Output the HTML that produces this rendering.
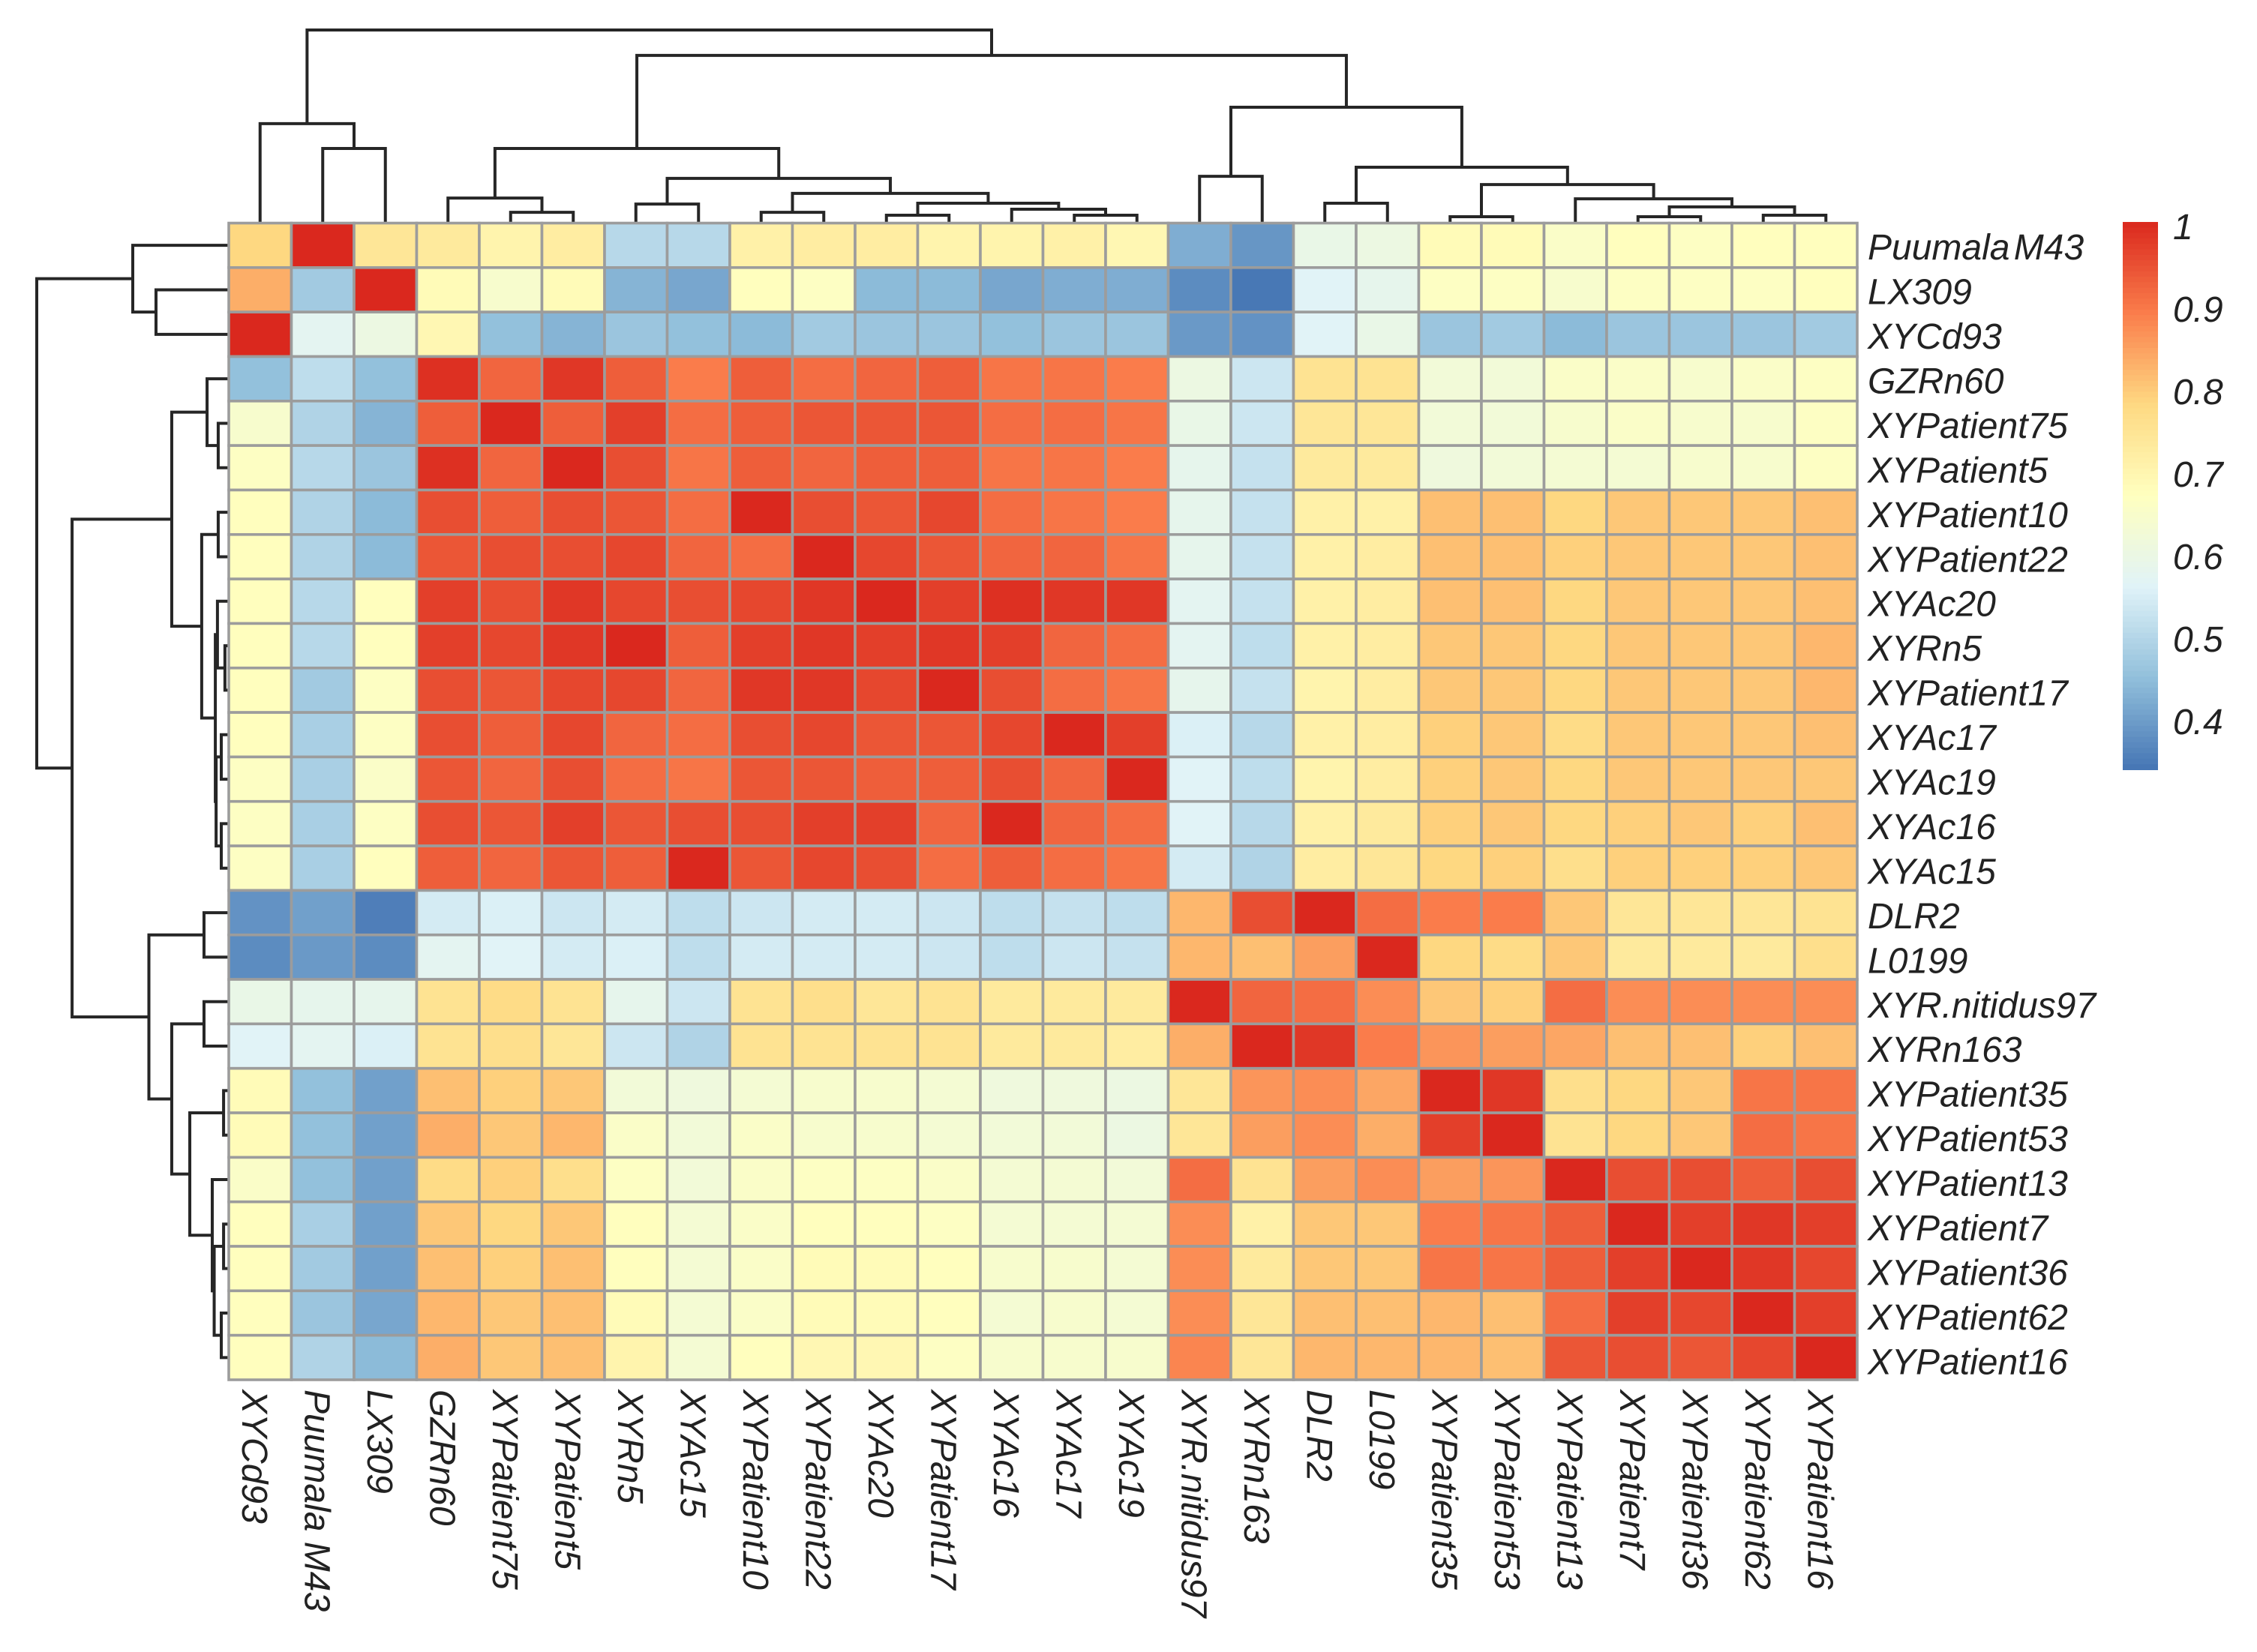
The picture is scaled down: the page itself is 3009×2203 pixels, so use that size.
<!DOCTYPE html>
<html lang="en">
<head>
<meta charset="utf-8">
<title>Clustered correlation heatmap</title>
<style>
html,body{margin:0;padding:0;background:#fff;width:3009px;height:2203px;overflow:hidden}
svg{display:block}
text{font-family:"Liberation Sans",sans-serif;font-style:italic;font-size:48px;fill:#222222}
</style>
</head>
<body>
<svg id="chart" xmlns="http://www.w3.org/2000/svg" width="3009" height="2203" viewBox="0 0 3009 2203">
  <rect x="0" y="0" width="3009" height="2203" fill="#ffffff"/>
  <g id="col-dendrogram" fill="none" stroke="#262626" stroke-width="4"></g>
  <g id="row-dendrogram" fill="none" stroke="#262626" stroke-width="4"></g>
  <g id="cells"></g>
  <g id="row-labels" style="word-spacing:-8px"></g>
  <g id="col-labels"></g>
  <g id="legend-bar"></g>
  <g id="legend-labels"></g>
</svg>
<script>
const rowLabels = ["Puumala M43","LX309","XYCd93","GZRn60","XYPatient75","XYPatient5","XYPatient10","XYPatient22","XYAc20","XYRn5","XYPatient17","XYAc17","XYAc19","XYAc16","XYAc15","DLR2","L0199","XYR.nitidus97","XYRn163","XYPatient35","XYPatient53","XYPatient13","XYPatient7","XYPatient36","XYPatient62","XYPatient16"];
const colLabels = ["XYCd93","Puumala M43","LX309","GZRn60","XYPatient75","XYPatient5","XYRn5","XYAc15","XYPatient10","XYPatient22","XYAc20","XYPatient17","XYAc16","XYAc17","XYAc19","XYR.nitidus97","XYRn163","DLR2","L0199","XYPatient35","XYPatient53","XYPatient13","XYPatient7","XYPatient36","XYPatient62","XYPatient16"];
const legendTicks = [1,0.9,0.8,0.7,0.6,0.5,0.4];
const legendTickText = ["1","0.9","0.8","0.7","0.6","0.5","0.4"];
const values = [
[.78,1,.74,.73,.70,.72,.50,.50,.71,.72,.72,.70,.70,.71,.69,.42,.385,.59,.60,.68,.68,.65,.67,.66,.67,.67],
[.83,.47,1,.68,.64,.68,.43,.41,.67,.66,.44,.44,.41,.42,.42,.37,.34,.56,.58,.66,.66,.64,.66,.66,.66,.67],
[1,.57,.60,.69,.45,.43,.46,.45,.44,.47,.46,.46,.45,.46,.46,.39,.38,.56,.59,.46,.47,.44,.46,.46,.46,.47],
[.45,.51,.45,.99,.92,.98,.93,.89,.93,.91,.92,.93,.90,.90,.89,.60,.53,.75,.75,.62,.62,.65,.65,.64,.65,.66],
[.64,.49,.43,.93,1,.93,.97,.91,.93,.94,.94,.94,.91,.91,.90,.59,.53,.74,.74,.62,.62,.64,.65,.64,.64,.66],
[.66,.50,.46,.99,.92,1,.95,.90,.93,.92,.93,.93,.90,.90,.89,.58,.52,.73,.73,.61,.62,.63,.63,.64,.64,.66],
[.67,.49,.44,.95,.93,.95,.94,.91,1,.95,.94,.96,.91,.90,.89,.58,.52,.71,.71,.81,.81,.78,.80,.80,.80,.81],
[.67,.49,.44,.94,.95,.95,.96,.92,.91,1,.96,.94,.92,.92,.90,.58,.52,.71,.72,.81,.81,.79,.80,.80,.80,.81],
[.67,.50,.67,.97,.95,.98,.96,.95,.96,.98,1,.97,.99,.98,.98,.57,.52,.71,.72,.81,.81,.78,.80,.80,.80,.81],
[.67,.50,.67,.97,.96,.98,1,.93,.97,.98,.97,.98,.97,.92,.91,.57,.51,.71,.72,.80,.80,.78,.80,.80,.80,.82],
[.67,.47,.66,.95,.94,.96,.96,.92,.98,.98,.96,1,.95,.91,.90,.58,.52,.70,.72,.80,.80,.78,.80,.80,.80,.82],
[.67,.48,.66,.95,.93,.96,.92,.91,.95,.96,.94,.94,.96,1,.97,.55,.50,.71,.72,.79,.80,.77,.80,.80,.80,.81],
[.66,.48,.65,.94,.92,.95,.91,.90,.94,.94,.93,.93,.95,.92,1,.56,.51,.70,.72,.79,.80,.78,.80,.80,.80,.80],
[.66,.48,.66,.95,.94,.97,.94,.95,.95,.97,.97,.92,1,.92,.91,.56,.50,.71,.73,.79,.80,.78,.79,.80,.79,.81],
[.66,.48,.67,.93,.92,.94,.93,1,.94,.96,.95,.91,.93,.91,.90,.54,.49,.72,.74,.78,.79,.76,.79,.79,.79,.80],
[.38,.40,.35,.54,.55,.53,.54,.51,.53,.54,.54,.53,.51,.52,.51,.82,.95,1,.91,.89,.89,.80,.74,.74,.74,.75],
[.37,.39,.37,.57,.56,.54,.55,.51,.54,.54,.54,.53,.51,.53,.52,.82,.81,.85,1,.78,.77,.80,.73,.73,.73,.76],
[.59,.58,.58,.75,.77,.75,.58,.53,.75,.76,.74,.75,.73,.73,.73,1,.92,.91,.87,.80,.79,.91,.87,.87,.87,.87],
[.56,.57,.55,.75,.76,.74,.53,.49,.75,.75,.75,.75,.73,.73,.72,.83,1,.98,.89,.86,.85,.84,.81,.81,.79,.81],
[.68,.45,.40,.81,.79,.80,.62,.61,.63,.64,.64,.63,.61,.61,.60,.74,.86,.87,.84,1,.98,.76,.78,.80,.90,.90],
[.68,.45,.40,.83,.80,.82,.65,.62,.65,.64,.64,.63,.62,.62,.60,.74,.85,.87,.83,.97,1,.75,.78,.80,.91,.90],
[.65,.45,.40,.77,.79,.76,.66,.62,.65,.66,.66,.65,.63,.63,.62,.91,.75,.85,.87,.85,.86,1,.95,.95,.93,.95],
[.67,.48,.40,.80,.78,.80,.67,.63,.65,.67,.67,.66,.63,.63,.63,.87,.71,.80,.80,.89,.90,.93,1,.97,.98,.97],
[.67,.47,.40,.81,.79,.81,.67,.63,.65,.68,.68,.67,.64,.64,.63,.87,.73,.80,.80,.90,.90,.93,.97,1,.98,.96],
[.67,.46,.41,.82,.80,.81,.68,.63,.65,.68,.68,.67,.63,.64,.63,.87,.74,.81,.81,.82,.81,.91,.97,.96,1,.97],
[.67,.49,.44,.83,.80,.81,.70,.63,.67,.69,.69,.66,.64,.64,.64,.88,.74,.82,.82,.82,.81,.94,.95,.94,.96,1]
];
// Dendrograms: [mergeHeight, leftChild, rightChild]; a plain integer child is a leaf index.
const colTree = [1,[.514,0,[.385,1,2]],[.868,[.385,[.128,3,[.054,4,5]],[.230,[.097,6,7],[.152,[.054,8,9],[.101,[.039,10,11],[.070,12,[.039,13,14]]]]]],[.599,[.241,15,16],[.288,[.101,17,18],[.198,[.031,19,20],[.124,21,[.082,[.031,22,23],[.039,24,25]]]]]]]];
const rowTree = [1,[.5,0,[.379,1,2]],[.816,[.297,[.113,3,[.055,4,5]],[.141,[.055,6,7],[.070,[.059,8,[.02,9,10]],[.066,[.039,11,12],[.039,13,14]]]]],[.416,[.129,15,16],[.297,[.129,17,18],[.203,[.027,19,20],[.086,21,[.076,[.027,22,23],[.039,24,25]]]]]]]];

const SVGNS = "http://www.w3.org/2000/svg";
const gridLeft = 305, gridTop = 297.5, gridRight = 2476, gridBottom = 1840;
const cellW = (gridRight - gridLeft) / colLabels.length;
const cellH = (gridBottom - gridTop) / rowLabels.length;
const colX = function (i) { return gridLeft + cellW * i; };
const rowY = function (i) { return gridTop + cellH * i; };
const colHeightY = function (h) { return 297 - h * 257; };
const rowHeightX = function (h) { return 305 - h * 256; };

const valueMin = 0.336, valueMax = 1;
const ramp = [[69,117,180],[145,191,219],[224,243,248],[255,255,191],[254,217,130],[250,125,75],[218,40,30]];
function colorFor(v) {
  let t = (v - valueMin) / (valueMax - valueMin);
  t = Math.max(0, Math.min(1, t)) * (ramp.length - 1);
  const k = Math.min(ramp.length - 2, Math.floor(t));
  const f = t - k;
  const c = [0,1,2].map(function (n) { return Math.round(ramp[k][n] + (ramp[k + 1][n] - ramp[k][n]) * f); });
  return "rgb(" + c.join(",") + ")";
}

const cellsG = document.getElementById("cells");
values.forEach(function (row, r) {
  row.forEach(function (v, c) {
    const el = document.createElementNS(SVGNS, "rect");
    
    
    el.setAttribute("x", colX(c));
    el.setAttribute("y", rowY(r));
    el.setAttribute("width", cellW);
    el.setAttribute("height", cellH);
    el.setAttribute("fill", colorFor(v));
    el.setAttribute("stroke", "#9c9c9c");
    el.setAttribute("stroke-width", "3.6");
    cellsG.appendChild(el);
  });
});

function drawTree(node, group, leafPos, heightPos, horizontal) {
  if (typeof node === "number") {
    return { c: leafPos(node), h: heightPos(0) };
  }
  const a = drawTree(node[1], group, leafPos, heightPos, horizontal);
  const b = drawTree(node[2], group, leafPos, heightPos, horizontal);
  const h = heightPos(node[0]);
  const el = document.createElementNS(SVGNS, "path");
  
  
  if (horizontal) {
    el.setAttribute("d", "M" + a.h + " " + a.c + "H" + h + "V" + b.c + "H" + b.h);
  } else {
    el.setAttribute("d", "M" + a.c + " " + a.h + "V" + h + "H" + b.c + "V" + b.h);
  }
  group.appendChild(el);
  return { c: (a.c + b.c) / 2, h: h };
}
drawTree(colTree, document.getElementById("col-dendrogram"), function (i) { return colX(i) + cellW / 2; }, colHeightY, false);
drawTree(rowTree, document.getElementById("row-dendrogram"), function (i) { return rowY(i) + cellH / 2; }, rowHeightX, true);

const rowLabelG = document.getElementById("row-labels");
rowLabels.forEach(function (name, i) {
  const el = document.createElementNS(SVGNS, "text");
  
  
  el.setAttribute("x", 2490);
  el.setAttribute("y", rowY(i) + cellH / 2 + 19 + i * 0.12);
  el.textContent = name;
  rowLabelG.appendChild(el);
});

const colLabelG = document.getElementById("col-labels");
colLabels.forEach(function (name, i) {
  const el = document.createElementNS(SVGNS, "text");
  
  
  const bx = colX(i) + cellW / 2 - 24;
  el.setAttribute("transform", "translate(" + bx + " 1853) rotate(90)");
  el.textContent = name;
  colLabelG.appendChild(el);
});

// Colour legend
const legendLeft = 2830, legendRight = 2877;
const legendY = function (v) { return 302 + (1 - v) * 1100; };
const legendBarG = document.getElementById("legend-bar");
const legendSteps = 100;
for (let s = 0; s < legendSteps; s++) {
  const hi = valueMax - (valueMax - valueMin) * s / legendSteps;
  const lo = valueMax - (valueMax - valueMin) * (s + 1) / legendSteps;
  const el = document.createElementNS(SVGNS, "rect");
  
  
  el.setAttribute("x", legendLeft);
  el.setAttribute("y", legendY(hi) - 6);
  el.setAttribute("width", legendRight - legendLeft);
  el.setAttribute("height", legendY(lo) - legendY(hi) + 0.6);
  el.setAttribute("fill", colorFor((hi + lo) / 2));
  legendBarG.appendChild(el);
}
const legendLabelG = document.getElementById("legend-labels");
legendTicks.forEach(function (v, i) {
  const el = document.createElementNS(SVGNS, "text");
  
  
  el.setAttribute("x", 2897);
  el.setAttribute("y", legendY(v) + 17);
  el.textContent = legendTickText[i];
  legendLabelG.appendChild(el);
});
</script>
</body>
</html>
